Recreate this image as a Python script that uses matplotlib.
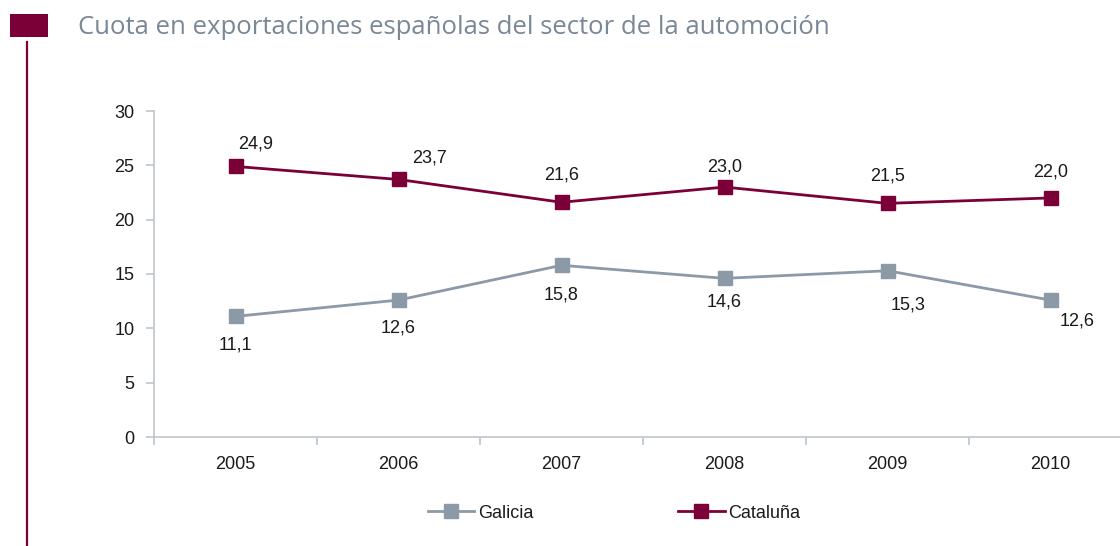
import matplotlib
matplotlib.use("Agg")
import matplotlib.pyplot as plt
from matplotlib.patches import Rectangle
from matplotlib.lines import Line2D

years = ["2005", "2006", "2007", "2008", "2009", "2010"]
galicia = [11.1, 12.6, 15.8, 14.6, 15.3, 12.6]
cataluna = [24.9, 23.7, 21.6, 23.0, 21.5, 22.0]
yticks = [0, 5, 10, 15, 20, 25, 30]
title = "Cuota en exportaciones españolas del sector de la automoción"

# label offsets in pixels (dx, dy)
cat_off = [(20, 22), (31, 21), (0, 27), (0, 20), (0, 27), (0, 26)]
gal_off = [(0, -29), (0, -28), (0, -30), (0, -24), (21, -34), (27, -21)]

RED = "#7B0038"
GREY = "#8C99A6"
AXC = "#BFC5CE"
FONT = "Liberation Sans"
TXT = "#1a1a1a"

W, H = 1120, 546
fig = plt.figure(figsize=(W / 100, H / 100), dpi=100)

left, right, bottom, top = 154, 1132, 437, 111
ax = fig.add_axes([left / W, 1 - bottom / H, (right - left) / W, (bottom - top) / H])

x = list(range(len(years)))
ax.plot(x, galicia, color=GREY, lw=2, marker="s", ms=10, mec=GREY, mfc=GREY, clip_on=False, label="Galicia")
ax.plot(x, cataluna, color=RED, lw=2, marker="s", ms=10, mec=RED, mfc=RED, clip_on=False, label="Cataluña")

for i, v in enumerate(cataluna):
    dx, dy = cat_off[i]
    ax.annotate(f"{v:.1f}".replace(".", ","), (i, v), xytext=(dx * 0.72, dy * 0.72),
                textcoords="offset points", ha="center", va="center",
                fontsize=13, family=FONT, color=TXT)
for i, v in enumerate(galicia):
    dx, dy = gal_off[i]
    ax.annotate(f"{v:.1f}".replace(".", ","), (i, v), xytext=(dx * 0.72, dy * 0.72),
                textcoords="offset points", ha="center", va="center",
                fontsize=13, family=FONT, color=TXT)

ax.set_xlim(-0.5, len(years) - 0.5)
ax.set_ylim(0, 30)
ax.set_yticks(yticks)
ax.set_yticklabels([str(t) for t in yticks], fontsize=13, family=FONT, color=TXT)
ax.set_xticks([i - 0.5 for i in range(len(years))] + [len(years) - 0.5])
ax.set_xticklabels([])
ax.set_xticks(x, minor=True)
ax.set_xticklabels(years, minor=True, fontsize=13, family=FONT, color=TXT)
ax.tick_params(axis="x", which="minor", length=0, pad=14)
ax.tick_params(axis="x", which="major", length=6, color=AXC, width=1.2)
ax.tick_params(axis="y", length=6, color=AXC, width=1.2, pad=8)

for s in ["top", "right"]:
    ax.spines[s].set_visible(False)
for s in ["left", "bottom"]:
    ax.spines[s].set_color(AXC)
    ax.spines[s].set_linewidth(1.2)

handles = [
    Line2D([], [], color=GREY, lw=2, marker="s", ms=10, mfc=GREY, mec=GREY),
    Line2D([], [], color=RED, lw=2, marker="s", ms=10, mfc=RED, mec=RED),
]
fig.legend(handles, ["Galicia", "Cataluña"], loc="center", bbox_to_anchor=(614 / W, 1 - 513 / H),
           ncol=2, frameon=False, handlelength=2.6, handletextpad=0.2, columnspacing=8,
           prop={"family": FONT, "size": 13}, labelcolor=TXT)

# decorative header
fig.patches.append(Rectangle((10 / W, 1 - 37 / H), 38 / W, 23 / H, transform=fig.transFigure,
                             facecolor=RED, edgecolor="none"))
fig.lines.append(Line2D([27 / W, 27 / W], [1 - 42 / H, 0], transform=fig.transFigure, color=RED, lw=1.6))
fig.text(78 / W, 1 - 28 / H, title, fontsize=18.5, family="Open Sans", color="#7A8795",
         ha="left", va="center")

fig.savefig("out.png", dpi=100)
